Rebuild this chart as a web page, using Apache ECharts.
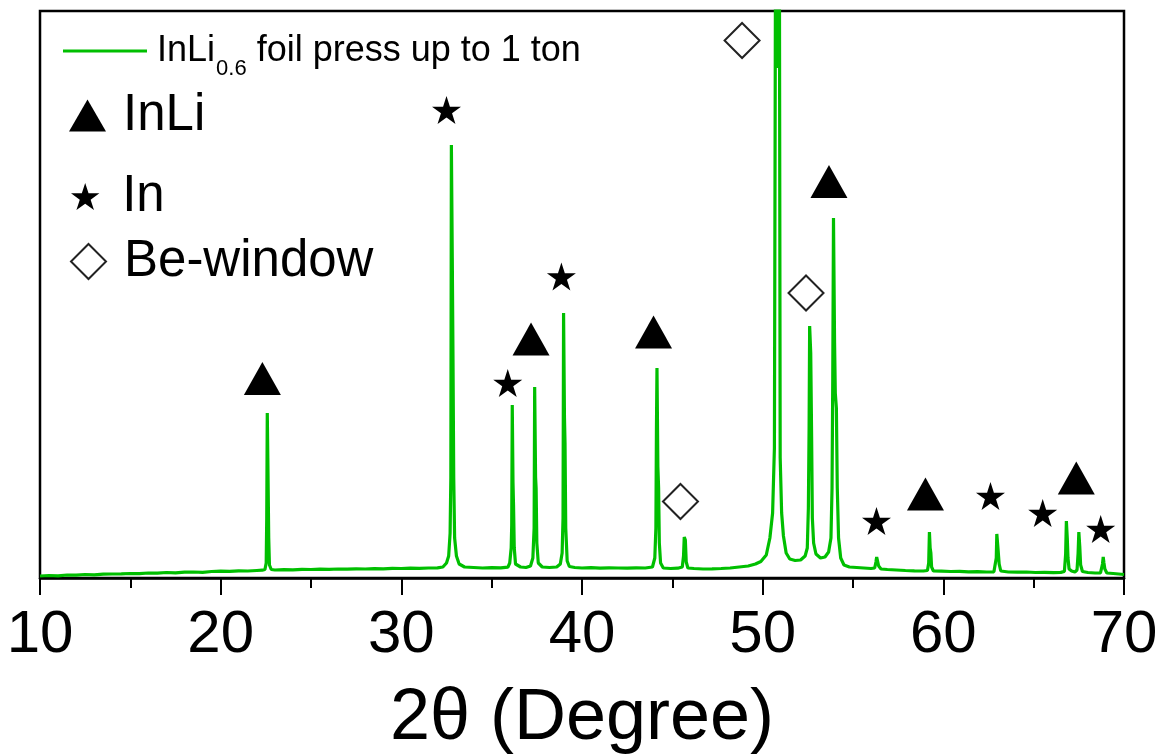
<!DOCTYPE html>
<html>
<head>
<meta charset="utf-8">
<script src="https://cdn.jsdelivr.net/npm/echarts@6/dist/echarts.min.js"></script>
<style>
html,body{margin:0;padding:0;background:#fff;}
#chart{width:1161px;height:756px;}
</style>
</head>
<body>
<div id="chart"></div>
<script>
// ---- Data ----
// XRD pattern: [2theta (deg), intensity (a.u.)]
const pattern = [
  [10,20],[10.5,25],[11,22],[11.5,30],[12,28],[12.5,35],[13,32],[13.5,38],[14,40],[14.5,42],[15,45],[15.5,43],
  [16,50],[16.5,48],[17,55],[17.5,52],[18,58],[18.5,60],[19,57],[19.5,65],[20,68],[20.5,66],[21,72],[21.5,70],
  [22,75],[22.3,78],
  [22.45,85],[22.52,150],[22.55,600],[22.58,1650],[22.61,1200],[22.63,880],[22.66,400],[22.7,130],[22.8,85],
  [23,80],[23.5,84],[24,82],[24.5,86],[25,85],[25.5,88],[26,86],[26.5,90],[27,88],[27.5,92],[28,90],[28.5,94],
  [29,92],[29.5,96],[30,95],[30.5,98],[31,97],[31.5,100],[32,102],[32.3,110],
  [32.5,150],[32.62,220],[32.7,450],[32.74,1000],[32.77,4330],[32.82,3200],[32.86,2180],[32.9,1000],[32.95,400],
  [33.05,220],[33.2,140],[33.5,110],
  [34,105],[34.5,100],[35,104],[35.5,102],[35.9,108],
  [36.0,150],[36.08,300],[36.11,530],[36.14,1730],[36.18,960],[36.21,730],[36.25,300],[36.32,140],
  [36.6,110],[36.9,105],[37.15,120],
  [37.28,200],[37.35,500],[37.38,1910],[37.43,1010],[37.46,900],[37.5,350],[37.58,150],
  [37.8,110],[38.2,105],[38.6,110],[38.8,140],
  [38.9,250],[38.95,600],[38.98,2650],[39.03,1600],[39.06,1350],[39.1,500],[39.18,170],[39.3,115],
  [39.6,105],[40,100],[40.5,104],[41,98],[41.5,102],[42,100],[42.5,98],[43,102],[43.5,100],[43.9,110],
  [44.03,200],[44.09,500],[44.12,1480],[44.15,2100],[44.2,1110],[44.24,900],[44.28,350],[44.35,150],[44.5,100],
  [44.9,95],[45.3,98],
  [45.55,110],[45.62,220],[45.66,410],[45.72,380],[45.77,160],[45.86,100],
  [46.2,95],[46.7,90],[47.2,92],[47.7,95],[48.2,100],[48.7,110],[49.2,120],[49.6,140],[49.9,165],
  [50.2,230],[50.4,400],[50.55,650],[50.65,1300],[50.72,7000],[50.84,5100],[50.92,7000],[50.97,1200],[51.05,650],
  [51.15,420],[51.3,250],[51.5,190],[51.8,175],[52.1,180],[52.35,220],
  [52.47,300],[52.53,700],[52.57,1500],[52.6,2520],[52.66,2250],[52.71,1400],[52.75,600],[52.82,350],[52.95,240],
  [53.2,200],[53.45,210],[53.65,260],
  [53.78,400],[53.84,900],[53.88,2000],[53.92,3600],[53.98,2350],[54.02,1850],[54.08,1700],[54.13,900],[54.2,400],
  [54.32,200],[54.5,130],[54.8,110],
  [55.2,105],[55.6,100],[56.0,95],
  [56.2,100],[56.27,160],[56.31,210],[56.36,190],[56.42,120],[56.55,90],
  [56.9,85],[57.4,80],[57.9,75],[58.4,72],[58.9,70],
  [59.12,75],[59.19,150],[59.23,460],[59.27,300],[59.31,250],[59.35,110],[59.45,70],
  [59.9,68],[60.4,65],[60.9,66],[61.4,62],[61.9,64],[62.4,60],[62.8,62],
  [62.88,70],[62.93,200],[62.96,440],[63.0,420],[63.04,260],[63.09,140],[63.18,70],
  [63.6,60],[64.1,58],[64.6,60],[65.1,55],[65.6,57],[66.1,54],[66.5,56],
  [66.7,65],[66.77,240],[66.81,570],[66.86,400],[66.9,200],[66.96,90],[67.1,70],
  [67.28,60],[67.4,80],[67.46,250],[67.5,460],[67.55,320],[67.6,130],[67.7,65],
  [68.0,55],[68.4,50],[68.7,52],
  [68.76,60],[68.81,140],[68.85,210],[68.89,150],[68.94,90],[69.05,50],
  [69.4,45],[69.7,40],[70,35]
];
// Phase markers: [2theta, height]
const inliMarks = [[22.31,1995],[37.18,2390],[43.96,2460],[53.67,3965],[59.01,840],[67.36,1000]];
const inMarks   = [[32.50,4680],[35.89,1950],[38.86,3015],[56.30,570],[62.61,820],[65.50,650],[68.71,490]];
const beMarks   = [[45.45,765],[48.86,5375],[52.40,2850]];

const seriesNames = ['InLi0.6 foil press up to 1 ton', 'InLi', 'In', 'Be-window'];
const xMin = 10, xMax = 70, xStep = 10;
const yMin = 0, yMax = 5670;

// ---- Chart ----
const STAR = 'path://M50 0 L61.23 34.55 L97.55 34.55 L68.17 55.9 L79.39 90.45 L50 69.1 L20.61 90.45 L31.83 55.9 L2.45 34.55 L38.77 34.55 Z';
const GREEN = '#00bf00';
const FONT = "'Liberation Sans', Arial, sans-serif";

const chart = echarts.init(document.getElementById('chart'), null, {renderer: 'canvas'});
const option = {
  animation: false,
  backgroundColor: '#fff',
  grid: {
    left: 40, right: 37, top: 11, bottom: 178,
    outerBoundsMode: 'none', containLabel: false,
    show: true, borderColor: '#000', borderWidth: 2.5, backgroundColor: 'transparent'
  },
  legend: [
    {
      data: [{name: seriesNames[0], icon: 'rect'}],
      left: 58, top: 17, padding: 5,
      itemWidth: 84, itemHeight: 3,
      itemStyle: {color: GREEN, borderWidth: 0},
      formatter: () => '{a|InLi}{b|0.6}{a| foil press up to 1 ton}',
      textStyle: {
        color: '#000', fontFamily: FONT, padding: [0, 0, 0, 5],
        rich: {
          a: {fontSize: 36, lineHeight: 58, color: '#000', fontFamily: FONT},
          b: {fontSize: 22, lineHeight: 22, padding: [36, 0, 0, 1], color: '#000', fontFamily: FONT}
        }
      }
    },
    {
      data: [{name: seriesNames[1], icon: 'triangle'}],
      left: 64, top: 85, padding: 5,
      itemWidth: 37, itemHeight: 32,
      itemStyle: {color: '#000', opacity: 1},
      textStyle: {fontSize: 51, color: '#000', fontFamily: FONT, padding: [9, 0, 0, 12]}
    },
    {
      data: [{name: seriesNames[2], icon: STAR}],
      left: 66, top: 166, padding: 5,
      itemWidth: 30, itemHeight: 27,
      itemStyle: {color: '#000', opacity: 1},
      textStyle: {fontSize: 51, color: '#000', fontFamily: FONT, padding: [12, 0, 0, 17]}
    },
    {
      data: [{name: seriesNames[3], icon: 'diamond'}],
      left: 65, top: 231, padding: 5,
      itemWidth: 35, itemHeight: 35,
      itemStyle: {color: '#fff', borderColor: '#222', borderWidth: 2, opacity: 1},
      textStyle: {fontSize: 51, color: '#000', fontFamily: FONT, padding: [9, 0, 0, 13]}
    }
  ],
  xAxis: {
    type: 'value', min: xMin, max: xMax, interval: xStep,
    name: '2\u03b8 (Degree)', nameLocation: 'middle', nameGap: 105,
    nameTextStyle: {fontSize: 72, color: '#000', fontFamily: FONT},
    axisLine: {show: true, onZero: false, lineStyle: {color: '#000', width: 2.5}},
    axisTick: {show: true, inside: false, length: 17, lineStyle: {color: '#000', width: 2}},
    minorTick: {show: true, splitNumber: 2, length: 10, lineStyle: {color: '#000', width: 2}},
    axisLabel: {fontSize: 60, color: '#000', fontFamily: FONT, margin: 27},
    splitLine: {show: false},
    minorSplitLine: {show: false}
  },
  yAxis: {
    type: 'value', min: yMin, max: yMax, show: false,
    splitLine: {show: false}
  },
  series: [
    {
      name: seriesNames[0], type: 'line', data: pattern,
      showSymbol: false, symbol: 'none', clip: true,
      color: GREEN,
      lineStyle: {color: GREEN, width: 3.2, join: 'bevel'},
      z: 2
    },
    {
      name: seriesNames[1], type: 'scatter', data: inliMarks,
      symbol: 'triangle', symbolSize: [37, 33],
      itemStyle: {color: '#000', opacity: 1}, z: 5, silent: true
    },
    {
      name: seriesNames[2], type: 'scatter', data: inMarks,
      symbol: STAR, symbolSize: [29, 28],
      itemStyle: {color: '#000', opacity: 1}, z: 5, silent: true
    },
    {
      name: seriesNames[3], type: 'scatter', data: beMarks,
      symbol: 'diamond', symbolSize: [35, 35],
      itemStyle: {color: '#fff', borderColor: '#222', borderWidth: 2, opacity: 1}, z: 5, silent: true
    }
  ]
};
chart.setOption(option);
</script>
</body>
</html>
